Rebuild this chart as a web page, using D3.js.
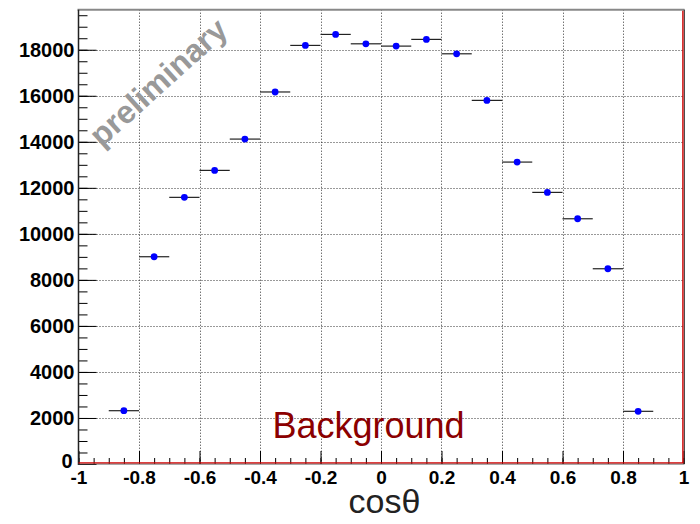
<!DOCTYPE html>
<html>
<head>
<meta charset="utf-8">
<script src="https://cdn.jsdelivr.net/npm/d3@7"></script>
<style>
  body { margin: 0; background: white; }
  svg { display: block; }
</style>
</head>
<body>
<div id="chart"></div>
<script>
// bin centers (cos theta) and counts per bin
let binCenters = [-0.85, -0.75, -0.65, -0.55, -0.45, -0.35, -0.25, -0.15, -0.05,
                  0.05, 0.15, 0.25, 0.35, 0.45, 0.55, 0.65, 0.75, 0.85];
let counts = [2316, 9006, 11586, 12758, 14118, 16165, 18188, 18666, 18258,
              18158, 18450, 17824, 15800, 13119, 11802, 10656, 8484, 2289];
let binWidth = 0.1;
let xTicks = [-1, -0.8, -0.6, -0.4, -0.2, 0, 0.2, 0.4, 0.6, 0.8, 1];
let yTicks = [0, 2000, 4000, 6000, 8000, 10000, 12000, 14000, 16000, 18000];

let data = binCenters.map((c, i) => ({ x: c, y: counts[i] }));

let width = 700, height = 524;
let margin = { left: 78.5, right: 683.5, top: 9.7, bottom: 464 };

let svg = d3.select('#chart')
  .append('svg')
  .attr('width', width)
  .attr('height', height)
  .style('font-family', '"Liberation Sans", Arial, sans-serif');

svg.append('rect').attr('width', width).attr('height', height).attr('fill', 'white');

// scales
let xScale = d3.scaleLinear().domain([-1, 1]).range([margin.left, margin.right]);
let yScale = d3.scaleLinear().domain([0, 19740]).range([margin.bottom, margin.top]);

// dotted grid
svg.append('g')
  .selectAll('line')
  .data(xTicks.slice(1, -1))
  .enter().append('line')
  .attr('x1', d => Math.round(xScale(d)) + 0.5)
  .attr('x2', d => Math.round(xScale(d)) + 0.5)
  .attr('y1', margin.top)
  .attr('y2', margin.bottom)
  .attr('stroke', '#333')
  .attr('stroke-dasharray', '1,2');
svg.append('g')
  .selectAll('line')
  .data(yTicks.slice(1))
  .enter().append('line')
  .attr('x1', margin.left)
  .attr('x2', margin.right)
  .attr('y1', d => Math.round(yScale(d)) + 0.5)
  .attr('y2', d => Math.round(yScale(d)) + 0.5)
  .attr('stroke', '#333')
  .attr('stroke-dasharray', '1,2');

// watermark
svg.append('text')
  .attr('transform', 'translate(158,82) rotate(-42)')
  .attr('text-anchor', 'middle')
  .attr('dy', '0.35em')
  .attr('font-size', '32px')
  .attr('font-weight', 'bold')
  .attr('fill', '#999')
  .text('preliminary');

// y axis, ticks point inward
let yAxis = d3.axisLeft(yScale).tickValues(yTicks).tickSize(-18).tickPadding(4)
  .tickFormat(d => String(d));
let yMinor = d3.axisLeft(yScale).tickValues(d3.range(0, 19600, 500)).tickSize(-9).tickFormat('');
svg.append('g')
  .attr('transform', 'translate(' + margin.left + ',0)')
  .call(yMinor)
  .call(g => g.select('.domain').remove());
let yg = svg.append('g')
  .attr('transform', 'translate(' + margin.left + ',0)')
  .call(yAxis);
yg.select('.domain').remove();
yg.selectAll('text')
  .attr('font-size', '20px')
  .attr('font-weight', 'bold')
  .attr('font-family', '"Liberation Sans", Arial, sans-serif')
  .attr('fill', 'black');
// zero label sits a little higher and left, clear of the -1 label
yg.selectAll('text').filter(d => d === 0).attr('dy', '0.15em').attr('x', -6);

// x axis
let xAxis = d3.axisBottom(xScale).tickValues(xTicks).tickSize(-13).tickPadding(7)
  .tickFormat(d => String(d));
let xMinor = d3.axisBottom(xScale).tickValues(d3.range(-1, 1.001, 0.05)).tickSize(-6).tickFormat('');
svg.append('g')
  .attr('transform', 'translate(0,' + margin.bottom + ')')
  .call(xMinor)
  .call(g => g.select('.domain').remove());
let xg = svg.append('g')
  .attr('transform', 'translate(0,' + margin.bottom + ')')
  .call(xAxis);
xg.select('.domain').remove();
xg.selectAll('text')
  .attr('font-size', '19px')
  .attr('font-weight', 'bold')
  .attr('font-family', '"Liberation Sans", Arial, sans-serif')
  .attr('fill', 'black');

// frame
svg.append('line')
  .attr('x1', margin.left - 1).attr('x2', margin.right + 1)
  .attr('y1', margin.top).attr('y2', margin.top)
  .attr('stroke', '#888').attr('stroke-width', 2);
svg.append('line')
  .attr('x1', margin.left).attr('x2', margin.left)
  .attr('y1', margin.top).attr('y2', margin.bottom + 1)
  .attr('stroke', '#222').attr('stroke-width', 1.5);
svg.append('line')
  .attr('x1', margin.left).attr('x2', margin.right + 1)
  .attr('y1', margin.bottom).attr('y2', margin.bottom)
  .attr('stroke', '#555').attr('stroke-width', 1);
svg.append('line')
  .attr('x1', margin.left).attr('x2', margin.right)
  .attr('y1', margin.bottom - 1.2).attr('y2', margin.bottom - 1.2)
  .attr('stroke', '#d00000').attr('stroke-width', 1.2);
svg.append('line')
  .attr('x1', margin.right + 0.8).attr('x2', margin.right + 0.8)
  .attr('y1', margin.top).attr('y2', margin.bottom)
  .attr('stroke', '#222').attr('stroke-width', 1);
svg.append('line')
  .attr('x1', margin.right - 0.6).attr('x2', margin.right - 0.6)
  .attr('y1', margin.top + 1).attr('y2', margin.bottom - 1)
  .attr('stroke', '#d00000').attr('stroke-width', 1.4);

// points with bin-width error bars
let points = svg.append('g');
points.selectAll('line')
  .data(data)
  .enter().append('line')
  .attr('x1', d => xScale(d.x - binWidth / 2))
  .attr('x2', d => xScale(d.x + binWidth / 2))
  .attr('y1', d => yScale(d.y))
  .attr('y2', d => yScale(d.y))
  .attr('stroke', '#222')
  .attr('stroke-width', 1.2);
points.selectAll('circle')
  .data(data)
  .enter().append('circle')
  .attr('cx', d => xScale(d.x))
  .attr('cy', d => yScale(d.y))
  .attr('r', 3.4)
  .attr('fill', '#0000ff');

// labels
svg.append('text')
  .attr('x', 368.5)
  .attr('y', 437.5)
  .attr('text-anchor', 'middle')
  .attr('font-size', '36px')
  .attr('fill', '#8b0000')
  .text('Background');

svg.append('text')
  .attr('x', 384.5)
  .attr('y', 513)
  .attr('text-anchor', 'middle')
  .attr('font-size', '34px')
  .attr('fill', '#222')
  .text('cos\u03b8');
</script>
</body>
</html>
